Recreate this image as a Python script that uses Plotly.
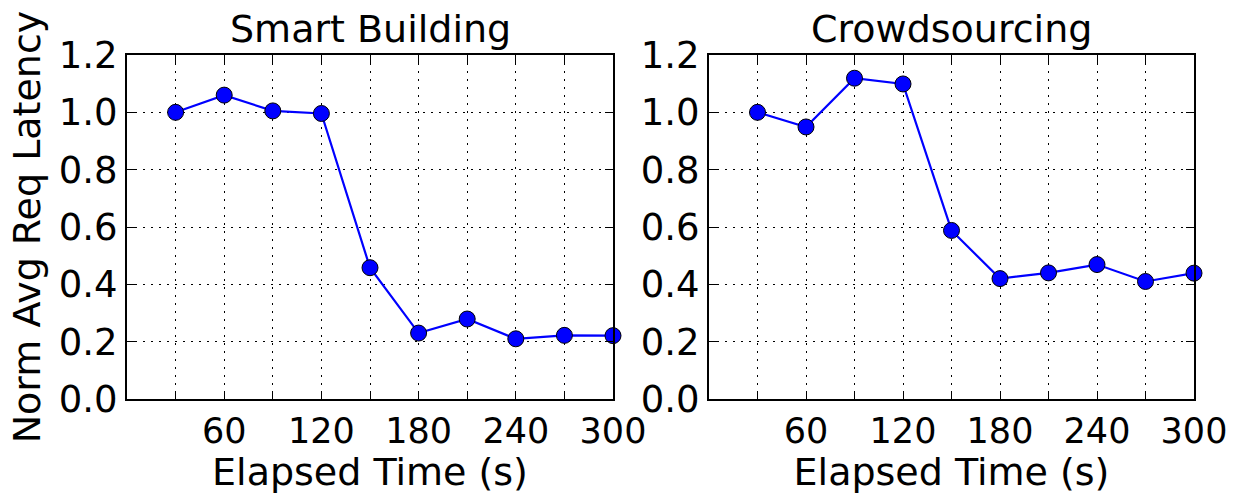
import plotly.graph_objects as go
from plotly.subplots import make_subplots

# elapsed time (s)
elapsed = [30, 60, 90, 120, 150, 180, 210, 240, 270, 300]
smart_building = [1.0, 1.06, 1.005, 0.996, 0.458, 0.23, 0.279, 0.21, 0.222, 0.221]
crowdsourcing = [1.0, 0.949, 1.119, 1.099, 0.588, 0.42, 0.44, 0.469, 0.41, 0.439]
titles = ['Smart Building', 'Crowdsourcing']

tickvals = list(range(0, 301, 30))
ticktext = [str(v) if v % 60 == 0 and v > 0 else '' for v in tickvals]
font = dict(family='DejaVu Sans', size=37, color='black')
xtick_font = dict(family='DejaVu Sans', size=35, color='black')
big_font = dict(family='DejaVu Sans', size=38, color='black')

fig = make_subplots(rows=1, cols=2)
W = 1233.0
domains = [[127 / W, 613 / W], [709 / W, 1194 / W]]

for i, ys in enumerate([smart_building, crowdsourcing]):
    fig.add_trace(go.Scatter(
        x=elapsed, y=ys, mode='lines+markers',
        line=dict(color='#0000ff', width=2.2),
        marker=dict(size=16, color='#0000ff', line=dict(color='black', width=1)),
        cliponaxis=False, showlegend=False),
        row=1, col=i + 1)
    ax = dict(showline=True, linecolor='black', linewidth=2, mirror='allticks',
              ticks='inside', ticklen=8, tickwidth=1, tickcolor='black',
              showgrid=True, gridcolor='black', griddash='2px,6px', gridwidth=1,
              zeroline=False, tickfont=font, automargin=False)
    fig.update_xaxes(ax, range=[0, 300], tickvals=tickvals, ticktext=ticktext,
                     domain=domains[i], tickfont=xtick_font,
                     title=dict(text='Elapsed Time (s)', font=big_font, standoff=2),
                     row=1, col=i + 1)
    fig.update_yaxes(ax, range=[0, 1.2], tickvals=[0, 0.2, 0.4, 0.6, 0.8, 1.0, 1.2],
                     ticktext=['0.0', '0.2', '0.4', '0.6', '0.8', '1.0', '1.2'],
                     domain=[0, 1], row=1, col=i + 1)
    fig.add_annotation(text=titles[i], x=sum(domains[i]) / 2, y=1.0,
                       xref='paper', yref='paper', xanchor='center', yanchor='bottom',
                       showarrow=False, font=big_font, yshift=2)

fig.update_yaxes(title=dict(text='Norm Avg Req Latency', font=big_font, standoff=6),
                 row=1, col=1)

fig.update_layout(
    width=1233, height=494,
    paper_bgcolor='white', plot_bgcolor='white',
    margin={'l': 0, 'r': 0, 't': 55, 'b': 95},
)
fig.write_html('out.html', config={'displayModeBar': False},
               post_script="document.body.style.margin='0';"
                           "document.body.style.overflow='hidden';")
